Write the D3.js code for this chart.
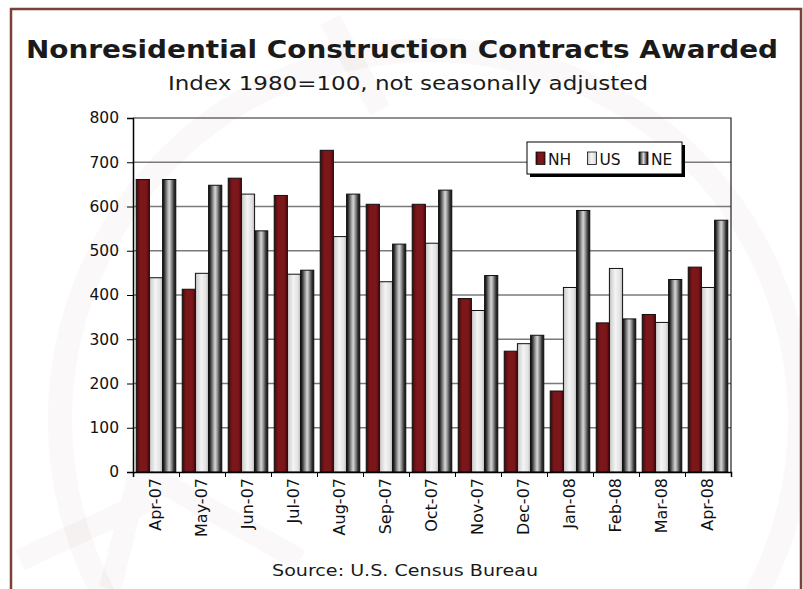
<!DOCTYPE html>
<html>
<head>
<meta charset="utf-8">
<script src="https://cdn.jsdelivr.net/npm/d3@7"></script>
<style>
  html, body { margin: 0; padding: 0; background: #fff; }
  svg { display: block; }
</style>
</head>
<body>
<div id="chart"></div>
<script>

var months = ["Apr-07", "May-07", "Jun-07", "Jul-07", "Aug-07", "Sep-07", "Oct-07",
              "Nov-07", "Dec-07", "Jan-08", "Feb-08", "Mar-08", "Apr-08"]

var seriesNames = ["NH", "US", "NE"]

var nh = [661, 413, 664, 625, 727, 605, 605, 392, 273, 183, 337, 356, 463]
var us = [439, 449, 628, 447, 532, 430, 517, 365, 290, 417, 460, 338, 417]
var ne = [661, 648, 545, 456, 628, 515, 637, 444, 309, 591, 346, 435, 569]

var yTicks = [0, 100, 200, 300, 400, 500, 600, 700, 800]

var width = 803, height = 589

var margin = { left: 133, right: 72, top: 118, bottom: 117 }

var svg = d3.select("#chart").append("svg")
    .attr("width", width)
    .attr("height", height)

var defs = svg.append("defs")

// bar fills: shaded like the old excel cylinders
var fills = {
    NH: [[0, "#240404"], [0.12, "#5a0e11"], [0.3, "#7b161a"], [0.75, "#7b161a"], [0.92, "#5e0f12"], [1, "#2e0606"]],
    US: [[0, "#a8a8a8"], [0.12, "#d4d4d4"], [0.45, "#f4f4f4"], [0.8, "#e2e2e2"], [1, "#b4b4b4"]],
    NE: [[0, "#050505"], [0.15, "#3c3c3c"], [0.35, "#9a9a9a"], [0.5, "#d6d6d6"], [0.65, "#9a9a9a"], [0.85, "#3a3a3a"], [1, "#050505"]]
}

seriesNames.forEach(function(name) {
    var g = defs.append("linearGradient")
        .attr("id", "grad-" + name)
        .attr("x1", "0").attr("x2", "1").attr("y1", "0").attr("y2", "0")
    fills[name].forEach(function(s) {
        g.append("stop").attr("offset", s[0]).attr("stop-color", s[1])
    })
})

// faint watermark behind everything
var mark = svg.append("g").attr("fill", "none").attr("stroke", "#7b4038").attr("stroke-opacity", 0.035)
mark.append("circle").attr("cx", 430).attr("cy", 420).attr("r", 370).attr("stroke-width", 24)
mark.append("path").attr("d", "M20,560 L150,500 M110,589 L140,470 L300,560 M330,20 L380,110")
    .attr("stroke-width", 22)

// outer frame
svg.append("rect")
    .attr("x", 11).attr("y", 9)
    .attr("width", 790).attr("height", 600)
    .attr("fill", "none")
    .attr("stroke", "#7b4038")
    .attr("stroke-width", 2.5)

svg.append("text")
    .attr("x", 402).attr("y", 58)
    .attr("text-anchor", "middle")
    .attr("font-family", "DejaVu Sans, Verdana, sans-serif")
    .attr("font-weight", "bold")
    .attr("font-size", 25)
    .attr("fill", "#1a1a1a")
    .attr("textLength", 752)
    .attr("lengthAdjust", "spacingAndGlyphs")
    .text("Nonresidential Construction Contracts Awarded")

svg.append("text")
    .attr("x", 408).attr("y", 90)
    .attr("text-anchor", "middle")
    .attr("font-family", "DejaVu Sans, Verdana, sans-serif")
    .attr("font-size", 19)
    .attr("fill", "#1a1a1a")
    .attr("textLength", 480)
    .attr("lengthAdjust", "spacingAndGlyphs")
    .text("Index 1980=100, not seasonally adjusted")

svg.append("text")
    .attr("x", 405).attr("y", 576)
    .attr("text-anchor", "middle")
    .attr("font-family", "DejaVu Sans, Verdana, sans-serif")
    .attr("font-size", 16.5)
    .attr("fill", "#1a1a1a")
    .attr("textLength", 266)
    .attr("lengthAdjust", "spacingAndGlyphs")
    .text("Source: U.S. Census Bureau")

var innerW = width - margin.left - margin.right
var innerH = height - margin.top - margin.bottom

var chart = svg.append("g")
    .attr("transform", "translate(" + margin.left + "," + margin.top + ")")

var y = d3.scaleLinear().domain([0, 800]).range([innerH, 0])

var x0 = d3.scaleBand()
    .domain(months)
    .range([0, innerW])
    .paddingInner(0.14)
    .paddingOuter(0.07)

var x1 = d3.scaleBand()
    .domain(seriesNames)
    .range([0, x0.bandwidth()])

var edges = d3.scaleLinear().domain([0, months.length]).range([0, innerW])

// gridlines
chart.append("g")
    .selectAll("line")
    .data(yTicks.filter(function(d) { return d > 0 && d < 800 }))
    .join("line")
    .attr("x1", 0).attr("x2", innerW)
    .attr("y1", function(d) { return y(d) })
    .attr("y2", function(d) { return y(d) })
    .attr("stroke", "#7a7a7a")
    .attr("stroke-width", 1.4)

// plot border top / right
chart.append("path")
    .attr("d", "M0," + y(800) + "H" + innerW + "V" + innerH)
    .attr("fill", "none")
    .attr("stroke", "#222")
    .attr("stroke-width", 1.2)

var rows = months.map(function(m, i) {
    return { month: m, NH: nh[i], US: us[i], NE: ne[i] }
})

var groups = chart.append("g")
    .selectAll("g")
    .data(rows)
    .join("g")
    .attr("transform", function(d) { return "translate(" + x0(d.month) + ",0)" })

groups.selectAll("rect")
    .data(function(d) { return seriesNames.map(function(k) { return { key: k, value: d[k] } }) })
    .join("rect")
    .attr("x", function(d) { return x1(d.key) })
    .attr("width", x1.bandwidth())
    .attr("y", function(d) { return y(d.value) })
    .attr("height", function(d) { return y(0) - y(d.value) })
    .attr("fill", function(d) { return "url(#grad-" + d.key + ")" })
    .attr("stroke", "#111")
    .attr("stroke-width", 1)

// y axis
var yAxis = chart.append("g")
    .call(d3.axisLeft(y).tickValues(yTicks).tickSize(6).tickPadding(8))

yAxis.select(".domain").attr("stroke", "#000").attr("stroke-width", 1.5)
yAxis.selectAll(".tick line").attr("stroke", "#000")
yAxis.selectAll("text")
    .attr("font-family", "DejaVu Sans, Verdana, sans-serif")
    .attr("font-size", 15.5)
    .attr("fill", "#111")

// x axis: tick marks between months
var xAxis = chart.append("g")
    .attr("transform", "translate(0," + innerH + ")")
    .call(d3.axisBottom(edges).tickValues(d3.range(months.length + 1)).tickFormat("").tickSize(5))

xAxis.select(".domain").attr("stroke", "#000").attr("stroke-width", 1.5)
xAxis.selectAll(".tick line").attr("stroke", "#000")

var xLabels = chart.append("g")
    .attr("transform", "translate(0," + innerH + ")")
    .call(d3.axisBottom(x0).tickSize(0).tickPadding(0))

xLabels.select(".domain").remove()
xLabels.selectAll("text")
    .attr("font-family", "DejaVu Sans, Verdana, sans-serif")
    .attr("font-size", 16)
    .attr("fill", "#111")
    .attr("text-anchor", "end")
    .attr("transform", "rotate(-90)")
    .attr("x", -6)
    .attr("y", -1)
    .attr("dy", "0.36em")

// legend
var legend = svg.append("g").attr("transform", "translate(527,142)")

legend.append("rect")
    .attr("x", 3).attr("y", 3)
    .attr("width", 155).attr("height", 32)
    .attr("fill", "#000")

legend.append("rect")
    .attr("width", 155).attr("height", 32)
    .attr("fill", "#fff")
    .attr("stroke", "#000")
    .attr("stroke-width", 1)

var lx = d3.scalePoint().domain(seriesNames).range([9, 112])

var items = legend.selectAll(".item")
    .data(seriesNames)
    .join("g")
    .attr("class", "item")
    .attr("transform", function(d) { return "translate(" + lx(d) + ",0)" })

items.append("rect")
    .attr("y", 10)
    .attr("width", 9).attr("height", 12.5)
    .attr("fill", function(d) { return "url(#grad-" + d + ")" })
    .attr("stroke", "#111")
    .attr("stroke-width", 0.8)

items.append("text")
    .attr("x", 12).attr("y", 22.5)
    .attr("font-family", "DejaVu Sans, Verdana, sans-serif")
    .attr("font-size", 15.5)
    .attr("fill", "#111")
    .text(function(d) { return d })

</script>
</body>
</html>
